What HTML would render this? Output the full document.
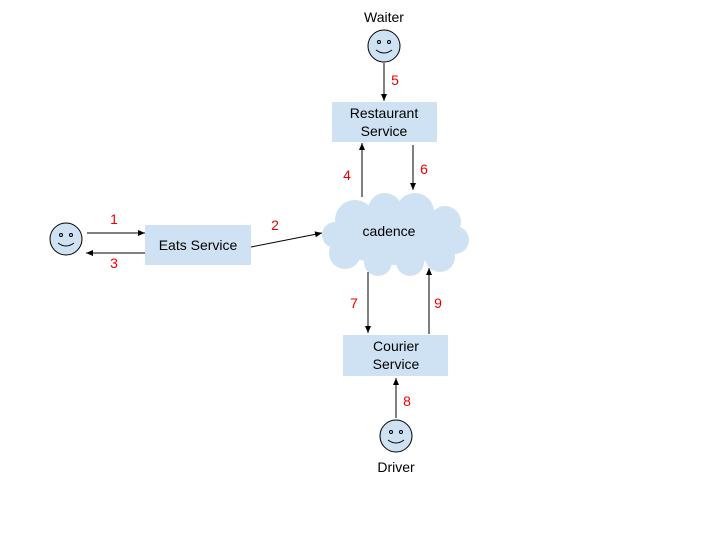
<html><body style="margin:0;background:#fff">
<svg width="720" height="540" xmlns="http://www.w3.org/2000/svg" font-family="Liberation Sans, Arial, sans-serif">
<defs><marker id="a" markerWidth="8" markerHeight="8" refX="7" refY="4" orient="auto" markerUnits="userSpaceOnUse"><path d="M0,1 L7,4 L0,7z" fill="#000"/></marker></defs>
<g fill="#cfe2f3" stroke="none">
<rect x="332" y="102" width="105" height="40"/>
<rect x="145" y="225" width="106" height="40"/>
<rect x="343" y="335" width="105" height="41"/>
<g>
<ellipse cx="395" cy="235" rx="62" ry="30"/>
<circle cx="355" cy="220" r="20"/><circle cx="385" cy="210" r="17"/><circle cx="415" cy="212" r="19"/><circle cx="445" cy="222" r="16"/>
<circle cx="455" cy="240" r="14"/><circle cx="440" cy="257" r="15"/><circle cx="410" cy="262" r="14"/><circle cx="378" cy="262" r="14"/>
<circle cx="345" cy="253" r="16"/><circle cx="335" cy="235" r="13"/>
</g>
</g>
<g fill="#cfe2f3" stroke="#000" stroke-width="1">
<circle cx="384" cy="46" r="16"/><circle cx="66" cy="239" r="16"/><circle cx="396" cy="436" r="16"/>
</g>
<g fill="none" stroke="#000" stroke-width="1">
<circle cx="379" cy="42" r="1.5"/><circle cx="389" cy="42" r="1.5"/><path d="M376,50 Q384,56 392,50"/>
<circle cx="61" cy="235" r="1.5"/><circle cx="71" cy="235" r="1.5"/><path d="M58,243 Q66,249 74,243"/>
<circle cx="391" cy="432" r="1.5"/><circle cx="401" cy="432" r="1.5"/><path d="M388,440 Q396,446 404,440"/>
</g>
<g stroke="#000" stroke-width="1" marker-end="url(#a)">
<line x1="384" y1="63" x2="384" y2="101"/>
<line x1="362" y1="197" x2="362" y2="143"/>
<line x1="413" y1="145" x2="413" y2="190"/>
<line x1="368" y1="272" x2="368" y2="333"/>
<line x1="429" y1="334" x2="429" y2="268"/>
<line x1="396" y1="418" x2="396" y2="378"/>
<line x1="87" y1="233" x2="145" y2="233"/>
<line x1="145" y1="253" x2="86" y2="253"/>
<line x1="251" y1="247" x2="322" y2="233"/>
</g>
<g font-size="14" fill="#000" text-anchor="middle">
<text x="384" y="22">Waiter</text>
<text x="384" y="118">Restaurant</text><text x="384" y="136">Service</text>
<text x="198" y="250">Eats Service</text>
<text x="389" y="236">cadence</text>
<text x="396" y="351">Courier</text><text x="396" y="369">Service</text>
<text x="396" y="472">Driver</text>
</g>
<g font-size="14" fill="#e00" text-anchor="middle">
<text x="395" y="85">5</text><text x="347" y="180">4</text><text x="424" y="174">6</text>
<text x="114" y="224">1</text><text x="114" y="268">3</text><text x="275" y="230">2</text>
<text x="354" y="308">7</text><text x="438" y="308">9</text><text x="407" y="406">8</text>
</g>
</svg>
</body></html>
